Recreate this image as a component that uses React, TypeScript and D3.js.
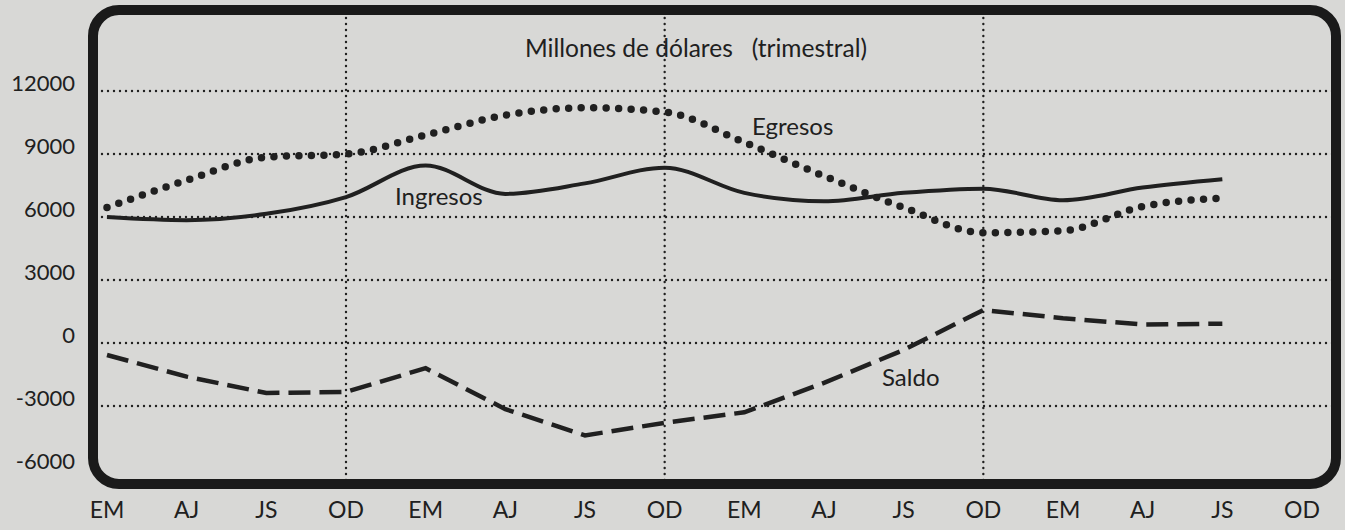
import React from 'react';
import * as d3 from 'd3';

// quarters (EM = ene-mar, AJ = abr-jun, JS = jul-sep, OD = oct-dic), four years
const quarters = ['EM', 'AJ', 'JS', 'OD', 'EM', 'AJ', 'JS', 'OD', 'EM', 'AJ', 'JS', 'OD', 'EM', 'AJ', 'JS', 'OD'];
const yTicks = [12000, 9000, 6000, 3000, 0, -3000, -6000];
const gridValues = [12000, 9000, 6000, 3000, 0, -3000];

// millones de dólares, one value per quarter (last OD empty)
const ingresos = [6000, 5850, 6150, 6950, 8450, 7100, 7600, 8350, 7150, 6750, 7150, 7350, 6800, 7400, 7800];
const egresos = [6450, 7750, 8850, 9000, 9900, 10850, 11200, 11000, 9550, 7950, 6450, 5250, 5350, 6500, 6900];
const saldo = [-570, -1600, -2380, -2330, -1200, -3150, -4400, -3800, -3300, -1900, -330, 1570, 1180, 880, 920];

const W = 1345;
const H = 530;
const font = 'Lato, "Open Sans", sans-serif';
const ink = '#202020';

export default function App() {
  const x = d3.scaleLinear().domain([0, quarters.length - 1]).range([107, 1302]);
  const y = d3.scaleLinear().domain([-6000, 12000]).range([469, 91]);

  const smooth = d3.line<number>()
    .x((_, i) => x(i))
    .y(d => y(d))
    .curve(d3.curveMonotoneX);

  const straight = d3.line<number>()
    .x((_, i) => x(i))
    .y(d => y(d));

  const odIdx = [3, 7, 11];

  return (
    <svg width={W} height={H} style={{ position: 'absolute', left: 0, top: 0 }}>
      <rect width={W} height={H} fill="#d8d8d6" />

      {/* horizontal grid */}
      {gridValues.map(v => (
        <line key={'h' + v} x1={90} x2={1336} y1={y(v)} y2={y(v)}
          stroke={ink} strokeWidth={2.4} strokeDasharray="0 6" strokeLinecap="round" />
      ))}
      {/* vertical grid at OD */}
      {odIdx.map(i => (
        <line key={'v' + i} x1={x(i)} x2={x(i)} y1={12} y2={484}
          stroke={ink} strokeWidth={2.4} strokeDasharray="0 6" strokeLinecap="round" />
      ))}

      {/* frame */}
      <rect x={93} y={10} width={1243} height={474} rx={26} ry={26}
        fill="none" stroke="#1a1a1a" strokeWidth={10} />

      {/* series */}
      <path d={smooth(egresos) || ''} fill="none" stroke={ink} strokeWidth={7.5}
        strokeDasharray="0 12.5" strokeLinecap="round" />
      <path d={smooth(ingresos) || ''} fill="none" stroke={ink} strokeWidth={4} strokeLinejoin="round" />
      <path d={straight(saldo) || ''} fill="none" stroke={ink} strokeWidth={4.5}
        strokeDasharray="22 9" />

      {/* y labels */}
      {yTicks.map(v => (
        <text key={'t' + v} x={75} y={y(v) - 8} dy="0.35em" textAnchor="end"
          fontFamily={font} fontSize={22} fill={ink}>{v}</text>
      ))}

      {/* x labels */}
      {quarters.map((q, i) => (
        <text key={'q' + i} x={x(i)} y={510} dy="0.35em" textAnchor="middle"
          fontFamily={font} fontSize={23} fill={ink}>{q}</text>
      ))}

      <text x={696} y={48} dy="0.35em" textAnchor="middle" fontFamily={font} fontSize={24.5} fill={ink}
        style={{ whiteSpace: 'pre' }}>{'Millones de dólares   (trimestral)'}</text>
      <text x={395} y={197} dy="0.35em" fontFamily={font} fontSize={24} fill={ink}>Ingresos</text>
      <text x={752} y={127} dy="0.35em" fontFamily={font} fontSize={24} fill={ink}>Egresos</text>
      <text x={882} y={378} dy="0.35em" fontFamily={font} fontSize={24} fill={ink}>Saldo</text>
    </svg>
  );
}
